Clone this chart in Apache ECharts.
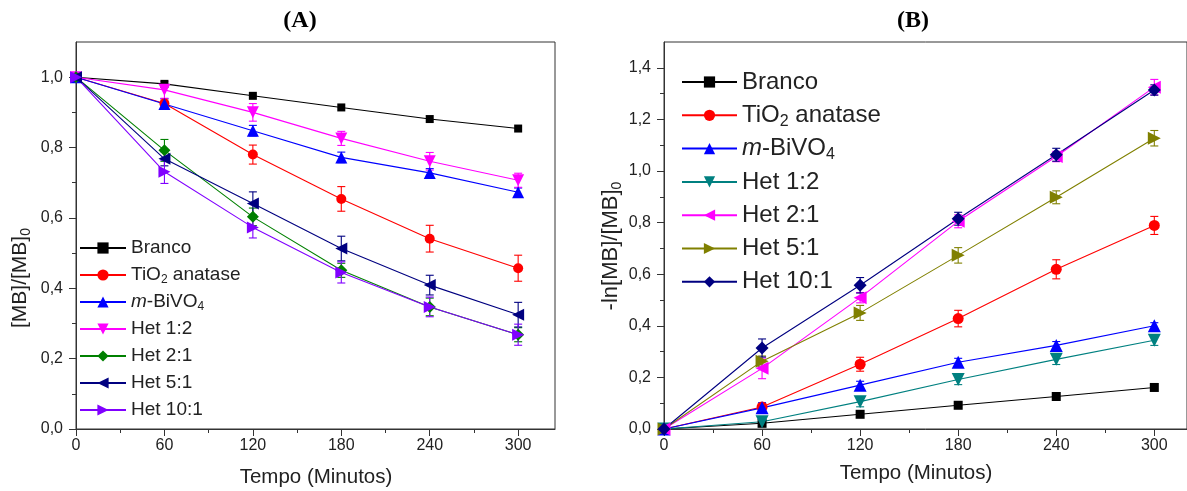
<!DOCTYPE html>
<html><head><meta charset="utf-8">
<script src="https://cdn.jsdelivr.net/npm/echarts@6/dist/echarts.min.js"></script>
<style>html,body{margin:0;padding:0;background:#fff}#c{width:1187px;height:491px}</style>
</head><body><div id="c"></div>
<script>
// ---- data ----
const times = [0, 60, 120, 180, 240, 300];
const xTicks = [0, 60, 120, 180, 240, 300];
const xMinorTicks = [30, 90, 150, 210, 270];
const aYTicks = [0, 0.2, 0.4, 0.6, 0.8, 1.0];
const aYMinorTicks = [0.1, 0.3, 0.5, 0.7, 0.9];
const bYTicks = [0, 0.2, 0.4, 0.6, 0.8, 1.0, 1.2, 1.4];
const bYMinorTicks = [0.1, 0.3, 0.5, 0.7, 0.9, 1.1, 1.3];

const seriesNames = ['Branco', 'TiO2 anatase', 'm-BiVO4', 'Het 1:2', 'Het 2:1', 'Het 5:1', 'Het 10:1'];

// chart A: [MB]/[MB]0
const aBranco = [1.0, 0.981, 0.947, 0.914, 0.881, 0.854];
const aTiO2   = [1.0, 0.925, 0.780, 0.654, 0.541, 0.457];
const aBiVO4  = [1.0, 0.924, 0.848, 0.772, 0.728, 0.673];
const aHet12  = [1.0, 0.964, 0.900, 0.826, 0.761, 0.707];
const aHet21  = [1.0, 0.792, 0.603, 0.451, 0.347, 0.268];
const aHet51  = [1.0, 0.768, 0.641, 0.513, 0.409, 0.325];
const aHet101 = [1.0, 0.731, 0.573, 0.445, 0.347, 0.268];
const aErrBranco = [0, 0, 0, 0, 0, 0];
const aErrTiO2   = [0, 0.010, 0.027, 0.035, 0.038, 0.037];
const aErrBiVO4  = [0, 0.015, 0.015, 0.015, 0.012, 0.012];
const aErrHet12  = [0, 0.024, 0.025, 0.020, 0.025, 0.020];
const aErrHet21  = [0, 0.031, 0.025, 0.020, 0.025, 0.020];
const aErrHet51  = [0, 0.020, 0.033, 0.035, 0.028, 0.035];
const aErrHet101 = [0, 0.033, 0.030, 0.030, 0.028, 0.030];

// chart B: -ln[MB]/[MB]0
const bBranco = [0, 0.022, 0.057, 0.092, 0.126, 0.161];
const bTiO2   = [0, 0.085, 0.251, 0.428, 0.619, 0.789];
const bBiVO4  = [0, 0.082, 0.170, 0.259, 0.324, 0.400];
const bHet12  = [0, 0.028, 0.106, 0.192, 0.270, 0.344];
const bHet21  = [0, 0.235, 0.509, 0.805, 1.056, 1.325];
const bHet51  = [0, 0.263, 0.450, 0.673, 0.898, 1.127];
const bHet101 = [0, 0.314, 0.557, 0.815, 1.063, 1.314];
const bErrBranco = [0, 0, 0, 0, 0, 0];
const bErrTiO2   = [0, 0.010, 0.027, 0.032, 0.037, 0.035];
const bErrBiVO4  = [0, 0.020, 0.015, 0.015, 0.015, 0.012];
const bErrHet12  = [0, 0.015, 0.020, 0.020, 0.020, 0.020];
const bErrHet21  = [0, 0.040, 0.020, 0.025, 0.020, 0.030];
const bErrHet51  = [0, 0.020, 0.029, 0.030, 0.025, 0.030];
const bErrHet101 = [0, 0.035, 0.030, 0.025, 0.025, 0.020];

// ---- styles ----
const FONT = '"Liberation Sans", Arial, sans-serif';
const aColors = ['#000000', '#FF0000', '#0000FF', '#FF00FF', '#008000', '#000080', '#8000FF'];
const bColors = ['#000000', '#FF0000', '#0000FF', '#008080', '#FF00FF', '#808000', '#000080'];
const aSymbols = [['rect', 0], ['circle', 0], ['triangle', 0], ['triangle', 180], ['diamond', 0], ['triangle', 90], ['triangle', -90]];
const bSymbols = [['rect', 0], ['circle', 0], ['triangle', 0], ['triangle', 180], ['triangle', 90], ['triangle', -90], ['diamond', 0]];
const symSizeA = {rect: 8, circle: 10, triangle: 12, diamond: 12};
const symSizeB = {rect: 9, circle: 11, triangle: 13, diamond: 13};

const aVals = [aBranco, aTiO2, aBiVO4, aHet12, aHet21, aHet51, aHet101];
const aErrs = [aErrBranco, aErrTiO2, aErrBiVO4, aErrHet12, aErrHet21, aErrHet51, aErrHet101];
const bVals = [bBranco, bTiO2, bBiVO4, bHet12, bHet21, bHet51, bHet101];
const bErrs = [bErrBranco, bErrTiO2, bErrBiVO4, bErrHet12, bErrHet21, bErrHet51, bErrHet101];

function richLabel(name) {
  if (name === 'TiO2 anatase') return 'TiO{sub|2} anatase';
  if (name === 'm-BiVO4') return '{it|m}-BiVO{sub|4}';
  return name;
}
function fmt(v) { return v.toFixed(1).replace('.', ','); }

const grids = [
  {left: 76, top: 42, width: 479, height: 387},
  {left: 76, top: 42, width: 479, height: 387},
  {left: 664, top: 42, width: 525, height: 387},
  {left: 664, top: 42, width: 525, height: 387}
];
grids.forEach((g, i) => { if (i % 2 === 0) { g.show = true; g.borderColor = '#333'; g.borderWidth = 1; g.backgroundColor = 'transparent'; } });

function mainX(gi, max) {
  return {type: 'value', gridIndex: gi, min: 0, max: max, interval: 60,
    axisLine: {show: true, onZero: false, lineStyle: {color: '#333', width: 1}},
    axisTick: {show: true, length: 7, customValues: xTicks, lineStyle: {color: '#333'}},
    axisLabel: {show: true, customValues: xTicks, margin: 9, fontSize: 16, fontFamily: FONT, color: '#222', formatter: v => String(v)},
    splitLine: {show: false}};
}
function minorX(gi, max) {
  return {type: 'value', gridIndex: gi, min: 0, max: max, interval: 30,
    axisLine: {show: false},
    axisTick: {show: true, length: 4, customValues: xMinorTicks, lineStyle: {color: '#333'}},
    axisLabel: {show: false}, splitLine: {show: false}};
}
function mainY(gi, max, ticks) {
  return {type: 'value', gridIndex: gi, min: 0, max: max, interval: 0.2,
    axisLine: {show: true, onZero: false, lineStyle: {color: '#333', width: 1}},
    axisTick: {show: true, length: 7, customValues: ticks, lineStyle: {color: '#333'}},
    axisLabel: {show: true, customValues: ticks, margin: 13, fontSize: 16, fontFamily: FONT, color: '#222', formatter: v => fmt(v)},
    splitLine: {show: false}};
}
function minorY(gi, max, ticks) {
  return {type: 'value', gridIndex: gi, min: 0, max: max, interval: 0.1,
    axisLine: {show: false},
    axisTick: {show: true, length: 4, customValues: ticks, lineStyle: {color: '#333'}},
    axisLabel: {show: false}, splitLine: {show: false}};
}

const series = [];
function addSet(prefix, vals, errs, colors, symbols, sizes, axisIdx) {
  vals.forEach((arr, i) => {
    const name = prefix + seriesNames[i];
    const [sym, rot] = symbols[i];
    series.push({
      type: 'line', name: name, xAxisIndex: axisIdx, yAxisIndex: axisIdx,
      data: times.map((t, k) => [t, arr[k]]),
      symbol: sym, symbolRotate: rot, symbolSize: sizes[sym], showSymbol: true,
      lineStyle: {color: colors[i], width: 1.1},
      itemStyle: {color: colors[i]},
      z: 3
    });
    series.push({
      type: 'custom', name: name + ' err', xAxisIndex: axisIdx, yAxisIndex: axisIdx,
      data: times.map((t, k) => [t, arr[k], errs[i][k]]),
      renderItem: function (params, api) {
        const x = api.value(0), y = api.value(1), e = api.value(2);
        if (!e) return null;
        const hi = api.coord([x, y + e]);
        const lo = api.coord([x, y - e]);
        const hw = 4;
        const st = {stroke: colors[i], lineWidth: 1.1};
        return {type: 'group', children: [
          {type: 'line', shape: {x1: hi[0], y1: hi[1], x2: lo[0], y2: lo[1]}, style: st},
          {type: 'line', shape: {x1: hi[0] - hw, y1: hi[1], x2: hi[0] + hw, y2: hi[1]}, style: st},
          {type: 'line', shape: {x1: lo[0] - hw, y1: lo[1], x2: lo[0] + hw, y2: lo[1]}, style: st}
        ]};
      },
      z: 2, silent: true
    });
  });
}
addSet('A:', aVals, aErrs, aColors, aSymbols, symSizeA, 0);
addSet('B:', bVals, bErrs, bColors, bSymbols, symSizeB, 2);

function legend(prefix, left, top, itemWidth, fontSize, lineHeight, gap) {
  return {
    orient: 'vertical', left: left, top: top, padding: 0,
    itemWidth: itemWidth, itemHeight: 14, itemGap: gap,
    data: seriesNames.map(n => prefix + n),
    formatter: name => richLabel(name.slice(2)),
    selectedMode: false,
    textStyle: {fontSize: fontSize, fontFamily: FONT, color: '#222', lineHeight: lineHeight,
      rich: {
        sub: {fontSize: Math.round(fontSize * 0.65), fontFamily: FONT, color: '#222', verticalAlign: 'bottom', lineHeight: lineHeight},
        it: {fontSize: fontSize, fontFamily: FONT, fontStyle: 'italic', color: '#222', lineHeight: lineHeight}
      }}
  };
}

const subRich = size => ({sub: {fontSize: Math.round(size * 0.65), fontFamily: FONT, fill: '#222', verticalAlign: 'bottom', lineHeight: size + 5}});

const option = {
  animation: false,
  grid: grids,
  xAxis: [mainX(0, 325), minorX(1, 325), mainX(2, 320), minorX(3, 320)],
  yAxis: [mainY(0, 1.1, aYTicks), minorY(1, 1.1, aYMinorTicks), mainY(2, 1.5, bYTicks), minorY(3, 1.5, bYMinorTicks)],
  legend: [legend('A:', 79, 237, 46, 19, 22, 5), legend('B:', 681, 68, 55, 24, 28, 5.3)],
  series: series,
  graphic: [
    {type: 'text', x: 300, y: 21, style: {text: '(A)', align: 'center', verticalAlign: 'middle', font: 'bold 24px "Liberation Serif", "Times New Roman", serif', fill: '#000'}},
    {type: 'text', x: 913, y: 21, style: {text: '(B)', align: 'center', verticalAlign: 'middle', font: 'bold 24px "Liberation Serif", "Times New Roman", serif', fill: '#000'}},
    {type: 'text', x: 316, y: 477, style: {text: 'Tempo (Minutos)', align: 'center', verticalAlign: 'middle', fontSize: 20.5, fontFamily: FONT, fill: '#222'}},
    {type: 'text', x: 916, y: 473, style: {text: 'Tempo (Minutos)', align: 'center', verticalAlign: 'middle', fontSize: 20.5, fontFamily: FONT, fill: '#222'}},
    {type: 'text', x: 20, y: 278, rotation: Math.PI / 2, style: {text: '[MB]/[MB]{sub|0}', align: 'center', verticalAlign: 'middle', fontSize: 21, fontFamily: FONT, fill: '#222', lineHeight: 26, rich: subRich(21)}},
    {type: 'text', x: 611, y: 246, rotation: Math.PI / 2, style: {text: '-ln[MB]/[MB]{sub|0}', align: 'center', verticalAlign: 'middle', fontSize: 22, fontFamily: FONT, fill: '#222', lineHeight: 27, rich: subRich(22)}}
  ]
};
const chart = echarts.init(document.getElementById('c'), null, {renderer: 'canvas'});
chart.setOption(option);
</script></body></html>
